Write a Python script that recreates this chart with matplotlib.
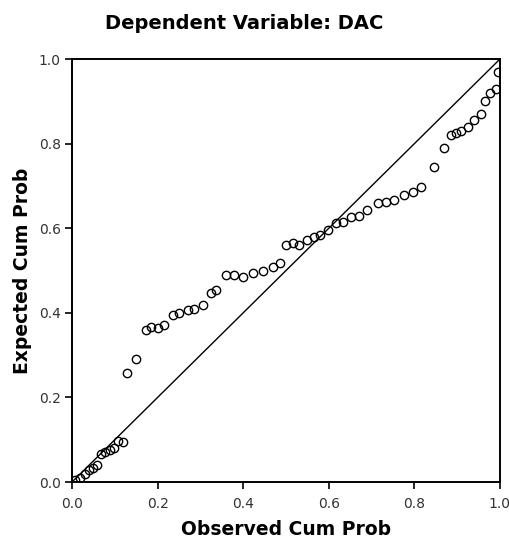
import matplotlib
matplotlib.use("Agg")
import matplotlib.pyplot as plt

plt.rcParams['font.family'] = ['DejaVu Sans']

title = "Dependent Variable: DAC"
x_label = "Observed Cum Prob"
y_label = "Expected Cum Prob"
tick_values = [0.0, 0.2, 0.4, 0.6, 0.8, 1.0]
tick_labels = ["0.0", "0.2", "0.4", "0.6", "0.8", "1.0"]

observed = [0.008, 0.018, 0.030, 0.040, 0.050, 0.058, 0.068, 0.078, 0.088, 0.098, 0.108, 0.118,
            0.128, 0.150,
            0.173, 0.185, 0.200, 0.215, 0.235, 0.250, 0.270, 0.285, 0.305, 0.325, 0.336,
            0.360, 0.378, 0.400, 0.423, 0.446, 0.470, 0.486,
            0.500, 0.516, 0.530, 0.550, 0.566, 0.580, 0.598, 0.617, 0.633, 0.652, 0.670,
            0.690, 0.715, 0.733, 0.752, 0.775, 0.797, 0.815,
            0.845, 0.870, 0.885, 0.897, 0.910, 0.925, 0.940, 0.955, 0.965, 0.978, 0.990, 0.996]
expected = [0.004, 0.010, 0.020, 0.028, 0.034, 0.040, 0.066, 0.072, 0.076, 0.080, 0.098, 0.094,
            0.258, 0.292,
            0.360, 0.366, 0.364, 0.372, 0.395, 0.400, 0.407, 0.410, 0.418, 0.447, 0.453,
            0.490, 0.490, 0.485, 0.494, 0.500, 0.508, 0.518,
            0.560, 0.565, 0.560, 0.572, 0.580, 0.584, 0.596, 0.612, 0.615, 0.626, 0.630,
            0.643, 0.660, 0.662, 0.667, 0.678, 0.686, 0.697,
            0.745, 0.790, 0.820, 0.825, 0.830, 0.840, 0.855, 0.870, 0.900, 0.920, 0.930, 0.970]

fig = plt.figure(figsize=(5.09, 5.48), dpi=100)
ax = fig.add_axes([0.1415, 0.1204, 0.8405, 0.7716])

ax.plot([0, 1], [0, 1], color='black', linewidth=1.0, zorder=2)
ax.plot(observed, expected, linestyle='none', marker='o', markersize=6,
        markerfacecolor='none', markeredgecolor='black', markeredgewidth=1.0, zorder=3)

ax.set_xlim(0, 1)
ax.set_ylim(0, 1)
ax.set_xticks(tick_values)
ax.set_xticklabels(tick_labels)
ax.set_yticks(tick_values)
ax.set_yticklabels(tick_labels)
ax.tick_params(direction='out', length=5, width=1.2, labelsize=10, colors='black',
               labelcolor='#333333')
ax.tick_params(axis='x', pad=6)
ax.tick_params(axis='y', pad=3)
for s in ax.spines.values():
    s.set_linewidth(1.4)
    s.set_color('black')

ax.set_xlabel(x_label, fontsize=13.5, fontweight='bold', labelpad=6)
ax.set_ylabel(y_label, fontsize=13.5, fontweight='bold', labelpad=5)
fig.text(0.48, 0.958, title, fontsize=14, fontweight='bold', ha='center', va='center')

fig.savefig("out.png", dpi=100)
